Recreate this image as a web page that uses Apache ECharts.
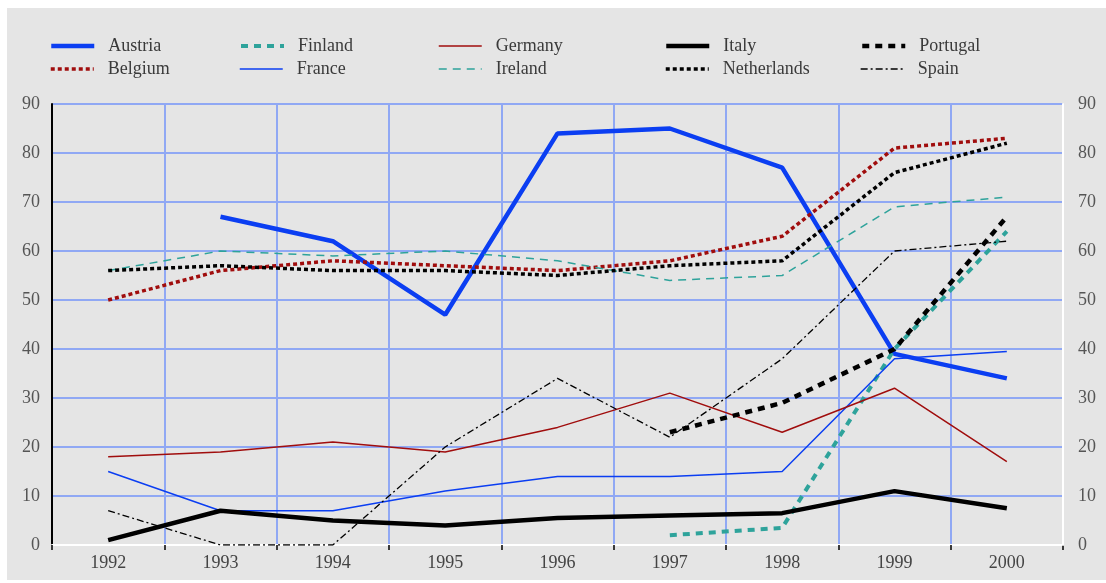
<!DOCTYPE html>
<html>
<head>
<meta charset="utf-8">
<script src="https://cdn.jsdelivr.net/npm/echarts@6.0.0/dist/echarts.min.js"></script>
<style>
    body { margin: 0; background: #ffffff; }
    #chart { position: absolute; left: 7px; top: 8px; width: 1099px; height: 572px; }
</style>
</head>
<body>
<div id="chart"></div>
<script>
// values, index = year
const years = ['1992', '1993', '1994', '1995', '1996', '1997', '1998', '1999', '2000'];
const yTicks = [0, 90, 10]; // min, max, interval

const austria     = [null, 67, 62, 47, 84, 85, 77, 39, 34];
const belgium     = [50, 56, 58, 57, 56, 58, 63, 81, 83];
const finland     = [null, null, null, null, null, 2, 3.5, 40, 64];
const france      = [15, 7, 7, 11, 14, 14, 15, 38, 39.5];
const germany     = [18, 19, 21, 19, 24, 31, 23, 32, 17];
const ireland     = [56, 60, 59, 60, 58, 54, 55, 69, 71];
const italy       = [1, 7, 5, 4, 5.5, 6, 6.5, 11, 7.5];
const netherlands = [56, 57, 56, 56, 55, 57, 58, 76, 82];
const portugal    = [null, null, null, null, null, 23, 29, 40, 67];
const spain       = [7, 0, 0, 20, 34, 22, 38, 60, 62];

const BLUE = '#0b3ef2';
const RED = '#a00d0d';
const TEAL = '#2ea39b';
const BLACK = '#000000';
const FONT = 'Liberation Serif';

// name, data, colour, width, dash type, legend column/row
const lines = [
    { name: 'Austria', data: austria, color: BLUE, width: 4.5, type: 'solid', col: 0, row: 0 },
    { name: 'Belgium', data: belgium, color: RED, width: 3.5, type: [4, 3], col: 0, row: 1 },
    { name: 'Finland', data: finland, color: TEAL, width: 4, type: [7, 6], col: 1, row: 0 },
    { name: 'France', data: france, color: BLUE, width: 1.5, type: 'solid', col: 1, row: 1 },
    { name: 'Germany', data: germany, color: RED, width: 1.5, type: 'solid', col: 2, row: 0 },
    { name: 'Ireland', data: ireland, color: TEAL, width: 1.5, type: [8, 6], col: 2, row: 1 },
    { name: 'Italy', data: italy, color: BLACK, width: 4.5, type: 'solid', col: 3, row: 0 },
    { name: 'Netherlands', data: netherlands, color: BLACK, width: 3.5, type: [4, 3], col: 3, row: 1 },
    { name: 'Portugal', data: portugal, color: BLACK, width: 4.5, type: [7, 6], col: 4, row: 0 },
    { name: 'Spain', data: spain, color: BLACK, width: 1.3, type: [7, 3, 2, 3], col: 4, row: 1 }
];

const legendLeft = [42, 232, 431, 657, 853];
const legendTop = [29, 52];

const chart = echarts.init(document.getElementById('chart'));

const yAxisBase = {
    type: 'value',
    min: yTicks[0],
    max: yTicks[1],
    interval: yTicks[2],
    axisTick: { show: false },
    axisLabel: { fontFamily: FONT, fontSize: 18, color: '#555555' }
};

chart.setOption({
    animation: false,
    backgroundColor: '#e5e5e5',
    legend: lines.map(l => ({
        data: [l.name],
        left: legendLeft[l.col],
        top: legendTop[l.row],
        padding: 0,
        itemWidth: 43,
        itemHeight: 14,
        selectedMode: false,
        // hide the circle, keep only the line sample
        itemStyle: { opacity: 0, borderWidth: 0 },
        lineStyle: { width: l.width, type: l.type, color: l.color },
        textStyle: { fontFamily: FONT, fontSize: 18, color: '#3a3a3a', padding: [0, 0, 0, 9] }
    })),
    grid: { left: 45, top: 96, width: 1011, height: 441 },
    xAxis: {
        type: 'category',
        data: years,
        boundaryGap: true,
        axisLine: { lineStyle: { color: '#ffffff', width: 2 } },
        axisTick: { show: true, length: 5, lineStyle: { color: '#000000', width: 1.5 } },
        axisLabel: { fontFamily: FONT, fontSize: 18, color: '#444444', margin: 9 },
        splitLine: { show: true, lineStyle: { color: '#90a8f4', width: 2 } }
    },
    yAxis: [
        {
            ...yAxisBase,
            position: 'left',
            axisLine: { show: true, lineStyle: { color: '#000000', width: 2 } },
            axisLabel: { ...yAxisBase.axisLabel, margin: 12 },
            splitLine: { show: true, lineStyle: { color: '#90a8f4', width: 2 } }
        },
        {
            ...yAxisBase,
            position: 'right',
            z: 3,
            axisLine: { show: true, lineStyle: { color: '#ffffff', width: 2 } },
            axisLabel: { ...yAxisBase.axisLabel, margin: 15 },
            splitLine: { show: false }
        }
    ],
    series: lines.map(l => ({
        name: l.name,
        type: 'line',
        data: l.data,
        symbol: 'none',
        lineStyle: { color: l.color, width: l.width, type: l.type },
        itemStyle: { color: l.color }
    }))
});
</script>
</body>
</html>
